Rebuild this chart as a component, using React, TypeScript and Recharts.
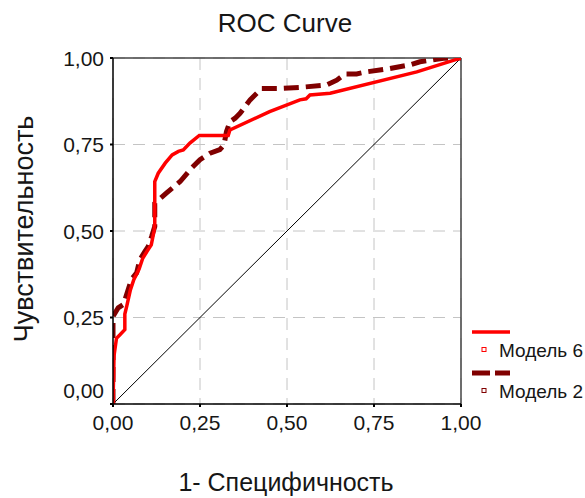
import React from 'react';
import { LineChart, Line, XAxis, YAxis, CartesianGrid, ReferenceLine } from 'recharts';

const axisTicks = [0, 0.25, 0.5, 0.75, 1];
const seriesNames = ['Модель 6', 'Модель 2'];
const titleText = 'ROC Curve';
const xTitle = '1- Специфичность';
const yTitle = 'Чувствительность';

const model6Fpr = [0, 0.003, 0.01, 0.02, 0.034, 0.034, 0.04, 0.05, 0.06, 0.075, 0.085, 0.097, 0.11, 0.118, 0.12, 0.12, 0.13, 0.15, 0.17, 0.188, 0.202, 0.221, 0.248, 0.331, 0.336, 0.45, 0.537, 0.555, 0.566, 0.624, 0.873, 1];
const model6Tpr = [0, 0.14, 0.19, 0.2, 0.215, 0.26, 0.285, 0.33, 0.36, 0.39, 0.42, 0.44, 0.46, 0.5, 0.52, 0.643, 0.667, 0.696, 0.72, 0.73, 0.734, 0.754, 0.776, 0.776, 0.792, 0.845, 0.879, 0.882, 0.893, 0.898, 0.96, 1];

const model2Fpr = [0, 0, 0.015, 0.029, 0.034, 0.039, 0.053, 0.068, 0.077, 0.092, 0.101, 0.111, 0.12, 0.12, 0.154, 0.193, 0.226, 0.25, 0.279, 0.307, 0.319, 0.326, 0.336, 0.351, 0.365, 0.394, 0.427, 0.48, 0.537, 0.614, 0.643, 0.667, 0.7, 0.729, 0.786, 0.853, 0.882, 0.916, 0.95, 1];
const model2Tpr = [0, 0.253, 0.278, 0.287, 0.3, 0.316, 0.36, 0.379, 0.417, 0.441, 0.455, 0.484, 0.513, 0.58, 0.61, 0.643, 0.682, 0.706, 0.725, 0.735, 0.749, 0.787, 0.816, 0.826, 0.84, 0.879, 0.912, 0.912, 0.915, 0.922, 0.936, 0.954, 0.954, 0.96, 0.968, 0.98, 0.989, 0.994, 0.999, 1];

const diagonalFpr = [0, 1];
const diagonalTpr = [0, 1];

const toPoints = (xs: number[], ys: number[]) => xs.map((x, i) => ({ x, y: ys[i] }));
const model6Data = toPoints(model6Fpr, model6Tpr);
const model2Data = toPoints(model2Fpr, model2Tpr);
const diagonalData = toPoints(diagonalFpr, diagonalTpr);

const FONT = '"Liberation Sans", Arial, sans-serif';
const TEXT = '#161616';
const fmt = (v: number) => v.toFixed(2).replace('.', ',');

const XTick = (props: any) => {
  const { x, payload } = props;
  return (
    <text x={x} y={430} textAnchor="middle" fontSize={21} fontFamily={FONT} fill={TEXT}>
      {fmt(payload.value)}
    </text>
  );
};

const YTick = (props: any) => {
  const { y, payload } = props;
  const by = payload.value === 0 ? y - 6.5 : y + 7.5;
  return (
    <text x={104} y={by} textAnchor="end" fontSize={21} fontFamily={FONT} fill={TEXT}>
      {fmt(payload.value)}
    </text>
  );
};

export default function App() {
  return (
    <div style={{ position: 'absolute', left: 0, top: 0, width: 585, height: 498, background: '#fff' }}>
      <LineChart
        width={585}
        height={498}
        margin={{ top: 58, right: 124, bottom: 0, left: 0 }}
      >
        <CartesianGrid stroke="#c4c4c4" strokeDasharray="12 8" strokeWidth={1} />
        <XAxis
          dataKey="x"
          type="number"
          domain={[0, 1]}
          ticks={axisTicks}
          interval={0}
          height={94}
          axisLine={{ stroke: '#000', strokeWidth: 1.5 }}
          tickLine={{ stroke: '#000', strokeWidth: 2 }}
          tickSize={3}
          tick={<XTick />}
          allowDataOverflow
        />
        <YAxis
          dataKey="y"
          type="number"
          domain={[0, 1]}
          ticks={axisTicks}
          interval={0}
          width={113}
          axisLine={{ stroke: '#000', strokeWidth: 1.5 }}
          tickLine={{ stroke: '#000', strokeWidth: 2 }}
          tickSize={3}
          tick={<YTick />}
          allowDataOverflow
        />
        <ReferenceLine y={1} stroke="#444" strokeWidth={1.5} />
        <ReferenceLine x={1} stroke="#444" strokeWidth={1.5} />
        <Line
          data={diagonalData}
          dataKey="y"
          type="linear"
          stroke="#000"
          strokeWidth={1}
          dot={false}
          activeDot={false}
          isAnimationActive={false}
          legendType="none"
        />
        <Line
          data={model2Data}
          dataKey="y"
          name={seriesNames[1]}
          type="linear"
          stroke="#800000"
          strokeWidth={5}
          strokeDasharray="15 7"
          dot={false}
          activeDot={false}
          isAnimationActive={false}
        />
        <Line
          data={model6Data}
          dataKey="y"
          name={seriesNames[0]}
          type="linear"
          stroke="#ff0000"
          strokeWidth={3.5}
          dot={false}
          activeDot={false}
          isAnimationActive={false}
        />
        <text x={285} y={32} textAnchor="middle" fontSize={26} fontFamily={FONT} fill={TEXT}>
          {titleText}
        </text>
        <text x={286} y={491} textAnchor="middle" fontSize={25} fontFamily={FONT} fill={TEXT}>
          {xTitle}
        </text>
        <text
          x={0}
          y={0}
          transform="translate(33,229) rotate(-90)"
          textAnchor="middle"
          fontSize={27}
          fontFamily={FONT}
          fill={TEXT}
        >
          {yTitle}
        </text>
        <g>
          <line x1={472} y1={332} x2={510} y2={332} stroke="#ff0000" strokeWidth={3.5} />
          <rect x={482} y={347.5} width={4} height={4} fill="#fff" stroke="#ff0000" strokeWidth={1} />
          <text x={499} y={357} fontSize={19} fontFamily={FONT} fill={TEXT}>{seriesNames[0]}</text>
          <line x1={472} y1={373} x2={510} y2={373} stroke="#800000" strokeWidth={5} strokeDasharray="18 5" />
          <rect x={482} y={388.5} width={4} height={4} fill="#fff" stroke="#800000" strokeWidth={1} />
          <text x={499} y={398} fontSize={19} fontFamily={FONT} fill={TEXT}>{seriesNames[1]}</text>
        </g>
      </LineChart>
    </div>
  );
}
